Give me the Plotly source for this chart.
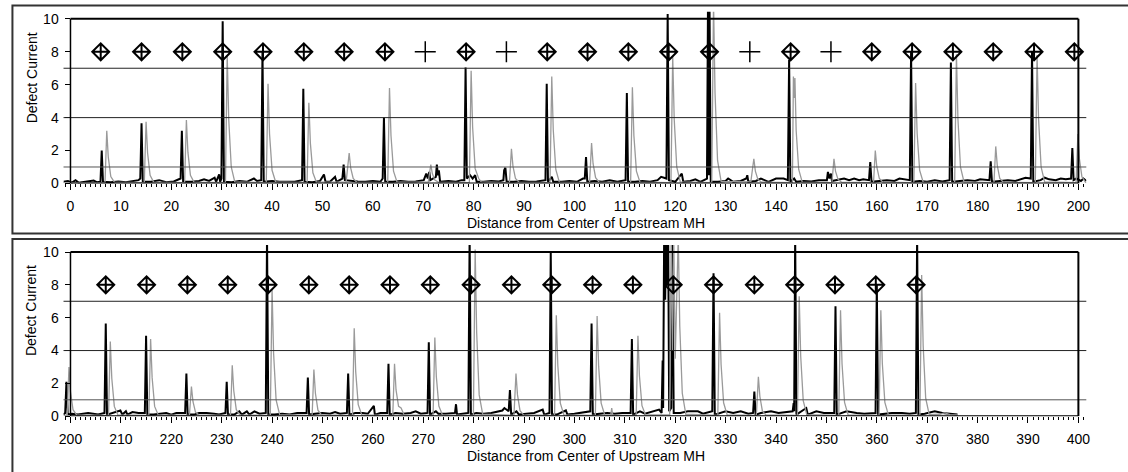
import plotly.graph_objects as go

# ---------------- data ----------------
# Panel 1 (0-200): black series (x, current)
black_top = [
    (-1.4,0.1),(-0.5,0.15),(0.3,0.05),(1.0,0.2),(1.6,0.05),(3,0.1),(4.6,0.18),(5.2,0.08),(5.95,0.1),(6.2,2.0),(6.45,0.1),
    (8,0.08),(9.5,0.12),(11,0.08),(12.5,0.15),(13.5,0.2),(13.85,0.3),(14.1,3.65),(14.35,0.1),(16,0.1),(17.6,0.2),(19,0.08),
    (20.5,0.12),(21.6,0.25),(21.85,0.3),(22.1,3.2),(22.35,0.1),(24,0.1),(25.5,0.15),(26.5,0.25),(27.5,0.15),(28.6,0.35),
    (28.9,0.1),(29.5,0.55),(29.7,0.1),(29.95,0.3),(30.2,9.85),(30.45,0.1),(32,0.08),(33.5,0.15),(35,0.1),(36.4,0.3),(37,0.15),(37.85,0.2),(38.1,8.0),
    (38.35,0.1),(40,0.15),(41.5,0.1),(43,0.12),(44.5,0.1),(45.95,0.2),(46.2,5.75),(46.45,0.1),(48,0.08),(49.5,0.15),(50.3,0.55),
    (50.6,0.1),(51.5,0.1),(52.5,0.4),(52.8,0.1),(53.95,0.3),(54.2,1.15),(54.45,0.2),(55.5,0.15),(57,0.12),(58.5,0.1),(60,0.15),
    (61.5,0.1),(61.95,0.3),(62.2,4.0),(62.45,0.1),(64,0.1),(65.5,0.15),(67,0.1),(68.5,0.12),(70.1,0.2),(70.6,0.6),(70.9,0.3),
    (71.2,0.7),(71.4,0.2),(72.5,0.4),(72.7,1.15),(72.9,0.5),(73.1,0.8),(73.35,0.1),(75,0.15),(76.5,0.1),(77.6,0.2),(78.15,0.2),
    (78.4,7.05),(78.65,0.3),(79.3,0.5),(79.8,0.3),(80.3,0.5),(80.6,0.1),(82,0.1),(83.5,0.15),(85,0.12),(85.9,0.2),(86.05,0.8),
    (86.3,0.95),(86.55,0.1),(88,0.1),(89.5,0.15),(91,0.1),(92.5,0.12),(94.25,0.2),(94.5,6.05),(94.75,0.1),(95.5,0.4),(95.8,0.1),
    (97.5,0.1),(99,0.15),(100.5,0.1),(101.7,0.3),(102.05,0.3),(102.3,1.6),(102.55,0.1),(104,0.15),(105.5,0.1),(107,0.2),
    (108.5,0.1),(110.15,0.2),(110.4,5.5),(110.65,0.1),(112,0.1),(113.5,0.15),(115,0.1),(116.5,0.2),(117.2,0.4),(118.25,0.3),
    (118.5,10.3),(118.75,0.2),(120,0.1),(121.3,0.6),(121.6,0.1),(123,0.15),(124,0.25),(125,0.1),(126.3,0.3),(126.5,11),
    (126.65,0.5),(126.8,11),(127.05,0.1),(128.5,0.1),(130,0.15),(130.5,0.3),(131.5,0.1),(133,0.15),(134.1,0.3),(134.3,0.5),
    (134.5,0.1),(136,0.15),(137,0.3),(138.5,0.1),(140,0.3),(141.5,0.3),(142.35,0.2),(142.6,7.5),(142.85,0.1),(143.6,0.3),
    (144,0.1),(145.5,0.15),(147,0.12),(148.5,0.2),(150.1,0.2),(150.3,0.7),(150.6,0.3),(150.9,0.6),(151.1,0.15),(152.5,0.25),
    (153.5,0.3),(154.5,0.2),(155.5,0.3),(156.5,0.2),(157.3,0.25),(158.45,0.2),(158.7,1.3),(158.95,0.1),(160.5,0.15),(162,0.2),
    (163.5,0.15),(164.5,0.3),(166.55,0.2),(166.8,8.0),(167.05,0.1),(168.5,0.15),(170,0.1),(171.5,0.2),(173,0.12),(174.45,0.2),
    (174.7,7.35),(174.95,0.1),(176.5,0.15),(178,0.2),(179.5,0.15),(180.5,0.25),(182.35,0.2),(182.6,1.35),(182.85,0.1),
    (184.5,0.15),(186,0.2),(187.5,0.15),(189.5,0.35),(190.55,0.3),(190.8,8.0),(191.05,0.1),(192.5,0.2),(193.3,0.35),
    (194.2,0.25),(195.5,0.2),(196.5,0.3),(197.5,0.25),(198.55,0.3),(198.8,2.15),(199.05,0.2),(199.6,0.3),(200.5,0.15),
    (201,0.3),(201.6,0.15),
]

# Panel 1: gray series (x, current)
gray_top = [
    (-1.4,0.05),(6.85,0.05),(7.2,3.2),(7.5,1.6),(8.0,0.42),(8.7,0.08),
    (14.65,0.05),(15.0,3.75),(15.3,1.85),(15.8,0.5),(16.5,0.08),
    (22.65,0.05),(23.0,3.85),(23.3,1.9),(23.8,0.5),(24.5,0.08),
    (30.75,0.05),(31.1,7.8),(31.4,3.9),(31.9,1.0),(32.6,0.1),
    (38.85,0.05),(39.2,6.05),(39.5,3.0),(40.0,0.8),(40.7,0.1),
    (46.95,0.05),(47.3,4.9),(47.6,2.45),(48.1,0.65),(48.8,0.08),
    (54.7,0.1),(55.3,1.85),(55.6,0.95),(56.1,0.3),(56.8,0.08),
    (62.95,0.05),(63.3,5.8),(63.6,2.9),(64.1,0.75),(64.8,0.08),
    (71.0,0.1),(71.5,1.15),(71.8,0.6),(72.3,0.2),(73.0,0.08),
    (79.15,0.05),(79.5,6.85),(79.8,3.4),(80.3,0.9),(81.0,0.3),(81.5,0.1),
    (87.1,0.05),(87.5,2.1),(87.8,1.05),(88.3,0.3),(89.0,0.08),
    (95.15,0.05),(95.5,6.5),(95.8,3.25),(96.3,0.85),(97.0,0.08),
    (103.0,0.05),(103.4,2.45),(103.7,1.2),(104.2,0.35),(104.9,0.08),
    (111.15,0.05),(111.5,5.85),(111.8,2.9),(112.3,0.75),(113.0,0.08),
    (119.15,0.05),(119.5,7.75),(119.8,3.9),(120.3,1.0),(121.0,0.1),
    (127.25,0.05),(127.6,11.0),(127.9,5.5),(128.4,1.4),(129.1,0.12),
    (135.0,0.1),(135.6,1.5),(135.9,0.75),(136.4,0.25),(137.1,0.08),
    (143.25,0.05),(143.45,6.5),(143.6,5.2),(143.75,6.4),(144.0,3.2),(144.5,0.85),(145.2,0.08),
    (151.1,0.05),(151.5,1.5),(151.8,0.75),(152.3,0.25),(153.0,0.08),
    (159.35,0.05),(159.7,2.0),(160.0,1.0),(160.5,0.3),(161.2,0.08),
    (167.35,0.05),(167.7,6.1),(168.0,3.05),(168.5,0.8),(169.2,0.08),
    (175.45,0.05),(175.8,7.85),(176.1,3.9),(176.6,1.0),(177.3,0.1),
    (183.25,0.05),(183.6,2.25),(183.9,1.1),(184.4,0.3),(185.1,0.08),
    (191.45,0.05),(191.8,7.8),(192.1,3.9),(192.6,1.0),(193.3,0.1),
    (199.55,0.05),(199.9,3.0),(200.2,1.5),(200.7,0.4),(201.4,0.08),(201.6,0.05),
]

# Panel 2 (200-400): black series
black_bottom = [
    (198.6,0.1),(198.95,0.2),(199.2,2.1),(199.45,0.1),(200.3,0.15),(201.5,0.1),(202.5,0.15),(203.5,0.2),(204.5,0.15),
    (205.5,0.1),(206.75,0.2),(207.0,5.65),(207.25,0.1),(208.5,0.2),(209.9,0.35),(210.3,0.1),(211,0.3),(211.3,0.1),(212.3,0.25),
    (213.5,0.2),(214.75,0.2),(215.0,4.9),(215.25,0.1),(216.5,0.1),(218,0.15),(219,0.2),(220,0.1),(221,0.2),(222.75,0.2),
    (223.0,2.6),(223.25,0.1),(224.5,0.1),(225.5,0.2),(227,0.2),(228.5,0.15),(229.5,0.1),(230.75,0.2),(231.0,2.1),
    (231.25,0.1),(232.5,0.1),(233.5,0.3),(234,0.1),(235,0.3),(235.5,0.1),(236.5,0.3),(237.5,0.15),(238.75,0.2),(239.0,11),
    (239.25,0.1),(240.5,0.1),(242,0.15),(243.5,0.1),(245,0.2),(246.85,0.2),(247.1,2.35),(247.35,0.1),(248.5,0.15),
    (250,0.2),(251.5,0.15),(252.5,0.25),(253.5,0.15),(254.85,0.2),(255.1,2.6),(255.35,0.1),(256.5,0.2),(258,0.2),
    (259,0.15),(260.2,0.63),(260.4,0.1),(261.5,0.2),(262.85,0.2),(263.1,3.2),(263.35,0.1),(264.5,0.2),(266,0.15),
    (267.5,0.2),(268.5,0.3),(269.5,0.15),(270.85,0.2),(271.1,4.5),(271.35,0.1),(272.5,0.3),(273,0.15),(274.5,0.15),
    (276.3,0.2),(276.5,0.73),(276.7,0.1),(278,0.15),(278.95,0.2),(279.2,11),(279.45,0.1),(280.5,0.2),(282,0.15),
    (283.5,0.2),(285.7,0.35),(286.1,0.5),(286.95,0.3),(287.2,1.6),(287.45,0.1),(288.5,0.3),(289,0.1),(290.5,0.15),
    (292,0.2),(293.7,0.4),(294,0.1),(295.05,0.2),(295.3,10.0),(295.55,0.1),(296.5,0.1),(298.3,0.35),(298.6,0.1),
    (300,0.15),(301.5,0.2),(303.15,0.3),(303.4,5.65),(303.65,0.1),(305,0.15),(306.5,0.2),(308,0.15),(309.5,0.2),
    (311.15,0.2),(311.4,4.7),(311.65,0.1),(313,0.3),(314,0.15),(315.5,0.3),(316.8,0.4),(317.3,0.2),(317.5,3.4),
    (317.6,0.5),(317.8,11),(318.0,7.1),(318.2,11),(318.4,8),(318.6,11),(318.8,0.3),(319.2,0.5),(319.4,11),(319.7,0.2),
    (321,0.2),(322.5,0.3),(324.5,0.3),(325.5,0.15),(327.35,0.3),(327.6,8.7),(327.85,0.1),(329,0.2),(330,0.3),
    (331.5,0.2),(333,0.3),(334.5,0.15),(335.45,0.2),(335.7,1.5),(335.95,0.1),(337,0.2),(339,0.3),(340.5,0.2),
    (342,0.25),(343.3,0.3),(343.5,0.8),(343.6,0.3),(343.8,11),(344.05,0.1),(346,0.5),(346.3,0.1),(348,0.3),
    (349.5,0.2),(351.55,0.2),(351.8,6.7),(352.05,0.1),(354,0.3),(356,0.2),(357.5,0.15),(359.75,0.2),(360.0,8.0),
    (360.25,0.1),(361.5,0.15),(363,0.2),(365,0.2),(366.5,0.15),(367.75,0.2),(368.0,11),(368.25,0.1),(369.5,0.15),
    (371.5,0.3),(373,0.2),(374.5,0.15),(376,0.1),
]

# Panel 2: gray series
gray_bottom = [
    (198.6,0.05),(199.35,0.05),(199.7,3.0),(200.0,1.5),(200.5,0.4),(201.2,0.08),
    (207.55,0.05),(207.9,4.55),(208.2,2.3),(208.7,0.6),(209.4,0.08),
    (215.55,0.05),(215.9,4.7),(216.2,2.35),(216.7,0.6),(217.4,0.08),
    (223.6,0.05),(224.0,1.8),(224.3,0.9),(224.8,0.25),(225.5,0.08),
    (231.75,0.05),(232.1,3.1),(232.4,1.55),(232.9,0.4),(233.6,0.08),
    (239.65,0.05),(240.0,7.7),(240.3,3.85),(240.8,1.0),(241.5,0.1),
    (247.95,0.05),(248.3,2.85),(248.6,1.4),(249.1,0.37),(249.8,0.08),
    (255.95,0.05),(256.3,5.35),(256.6,2.7),(257.1,0.7),(257.8,0.08),
    (263.95,0.05),(264.3,3.2),(264.6,1.6),(265.1,0.6),(265.6,0.5),(266.2,0.08),
    (271.95,0.05),(272.3,4.8),(272.6,2.4),(273.1,0.62),(273.8,0.08),
    (279.95,0.05),(280.3,10.15),(280.6,5.1),(281.1,1.3),(281.8,0.12),
    (288.0,0.05),(288.4,2.6),(288.7,1.3),(289.2,0.34),(289.9,0.08),
    (296.05,0.05),(296.4,6.15),(296.7,3.1),(297.2,0.8),(297.9,0.08),
    (304.15,0.05),(304.5,6.1),(304.8,3.05),(305.3,0.8),(306.0,0.08),
    (307.2,0.05),(307.4,0.5),(307.6,0.05),
    (312.25,0.05),(312.6,4.9),(312.9,2.45),(313.4,0.64),(314.1,0.08),
    (318.9,0.1),(319.2,11),(319.45,4.0),(319.7,11),(320.0,3.5),(320.6,11),(320.9,5.5),(321.4,1.4),(322.1,0.12),
    (328.45,0.05),(328.8,6.3),(329.1,3.15),(329.6,0.82),(330.3,0.08),
    (336.1,0.05),(336.5,2.4),(336.8,1.2),(337.3,0.31),(338.0,0.08),
    (344.25,0.05),(344.6,7.3),(344.9,3.65),(345.4,0.95),(346.1,0.1),
    (352.45,0.05),(352.8,6.45),(353.1,3.2),(353.6,0.84),(354.3,0.08),
    (360.45,0.05),(360.8,6.45),(361.1,3.2),(361.6,0.84),(362.3,0.08),
    (368.55,0.05),(368.9,8.6),(369.2,4.3),(369.7,1.1),(370.4,0.1),
    (372.5,0.12),(373.5,0.2),(374.5,0.1),(376,0.08),
]

# Marker positions (plotted at current = 8)
marker_level = 8
diamond_top_x = [6.0, 14.1, 22.2, 30.2, 38.2, 46.3, 54.3, 62.4, 78.5, 94.6, 102.6, 110.7, 118.7, 126.8,
                 142.9, 159.0, 167.0, 175.1, 183.1, 191.2, 199.2]
cross_top_x = [70.4, 86.5, 134.8, 150.9]
diamond_bottom_x = [207.0, 215.1, 223.2, 231.2, 239.2, 247.3, 255.3, 263.4, 271.4, 279.5, 287.5, 295.5, 303.6,
                    311.6, 319.6, 327.6, 335.7, 343.7, 351.7, 359.8, 367.8]

x_ticks_top = list(range(0, 201, 10))
x_ticks_bottom = list(range(200, 401, 10))
y_ticks = [0, 2, 4, 6, 8, 10]
ref_lines = [1, 4, 7]

x_title = "Distance from Center of Upstream MH"
y_title = "Defect Current"

# ---------------- figure ----------------
W, H = 1128, 472
FONT = "Arial, Liberation Sans, Helvetica, sans-serif"
BLACK = "#000000"
GRAY = "#9a9a9a"


def unzip(pairs):
    return [p[0] for p in pairs], [p[1] for p in pairs]


fig = go.Figure()

panels = [
    dict(xa="x", ya="y", black=black_top, gray=gray_top, dia=diamond_top_x, cross=cross_top_x,
         lo=0, hi=200),
    dict(xa="x2", ya="y2", black=black_bottom, gray=gray_bottom, dia=diamond_bottom_x, cross=[],
         lo=200, hi=400),
]

for p in panels:
    bx, by = unzip(p["black"])
    gx, gy = unzip(p["gray"])
    fig.add_trace(go.Scatter(x=bx, y=by, mode="lines", line=dict(color=BLACK, width=2),
                             xaxis=p["xa"], yaxis=p["ya"], hoverinfo="skip"))
    fig.add_trace(go.Scatter(x=gx, y=gy, mode="lines", line=dict(color=GRAY, width=1.3),
                             xaxis=p["xa"], yaxis=p["ya"], hoverinfo="skip"))
    fig.add_trace(go.Scatter(x=p["dia"], y=[marker_level] * len(p["dia"]), mode="markers",
                             marker=dict(symbol="diamond-cross-open", size=13, color=BLACK,
                                         line=dict(color=BLACK, width=2)),
                             xaxis=p["xa"], yaxis=p["ya"], cliponaxis=False))
    if p["cross"]:
        fig.add_trace(go.Scatter(x=p["cross"], y=[marker_level] * len(p["cross"]), mode="markers",
                                 marker=dict(symbol="cross-thin-open", size=15, color=BLACK,
                                             line=dict(color=BLACK, width=1.5)),
                                 xaxis=p["xa"], yaxis=p["ya"]))

# pixel-derived layout helpers
def px_x(v):
    return v / W

def px_y(v):
    return 1 - v / H

x_dom = [px_x(59), px_x(1090)]
axis_font = dict(family=FONT, size=14, color=BLACK)

common_x = dict(domain=x_dom, showgrid=False, zeroline=False, showline=False,
                ticks="outside", ticklen=6, tickwidth=1, tickcolor=BLACK,
                tickfont=axis_font, ticklabelstandoff=4,
                minor=dict(dtick=1, ticks="outside", ticklen=3, tickcolor=BLACK, tickwidth=1, showgrid=False))
common_y = dict(range=[0, 10.43], showgrid=False, zeroline=False, showline=False,
                tickvals=y_ticks, ticks="outside", ticklen=5, tickwidth=1, tickcolor=BLACK,
                tickfont=axis_font, anchor="free", position=px_x(66), ticklabelstandoff=4)

fig.update_layout(
    width=W, height=H, margin=dict(l=0, r=0, t=0, b=0),
    paper_bgcolor="white", plot_bgcolor="white", showlegend=False,
    font=dict(family=FONT, color=BLACK),
    xaxis=dict(common_x, range=[-1.38, 201.57], tickvals=x_ticks_top, anchor="y"),
    yaxis=dict(common_y, domain=[px_y(186), px_y(11)]),
    xaxis2=dict(common_x, range=[198.62, 401.57], tickvals=x_ticks_bottom, anchor="y2"),
    yaxis2=dict(common_y, domain=[px_y(423.3), px_y(248.7)]),
)

shapes = []
for p in panels:
    xa, ya = p["xa"], p["ya"]
    for v in ref_lines:
        shapes.append(dict(type="line", xref=f"{xa} domain", yref=ya, x0=0, x1=1, y0=v, y1=v,
                           line=dict(color="#222222" if v != 1 else "#555555", width=1)))
    # frame of the plot: left axis, bottom axis, top and right borders
    shapes.append(dict(type="line", xref=xa, yref=ya, x0=p["lo"], x1=p["lo"], y0=0, y1=10,
                       line=dict(color=BLACK, width=1.5)))
    shapes.append(dict(type="line", xref=xa, yref=ya, x0=p["lo"], x1=p["hi"], y0=0, y1=0,
                       line=dict(color=BLACK, width=2)))
    shapes.append(dict(type="line", xref=xa, yref=ya, x0=p["lo"], x1=p["hi"], y0=10, y1=10,
                       line=dict(color=BLACK, width=2)))
    shapes.append(dict(type="line", xref=xa, yref=ya, x0=p["hi"], x1=p["hi"], y0=0, y1=10,
                       line=dict(color=BLACK, width=2)))

# outer chart boxes
shapes.append(dict(type="rect", xref="paper", yref="paper", x0=px_x(7.5), x1=1.02,
                   y0=px_y(237), y1=px_y(4.7), line=dict(color="#333333", width=2), layer="below"))
shapes.append(dict(type="rect", xref="paper", yref="paper", x0=px_x(7.5), x1=1.02,
                   y0=-0.02, y1=px_y(242.5), line=dict(color="#333333", width=2), layer="below"))
fig.update_layout(shapes=shapes)

annotations = []
for off in (0, 237.3):
    annotations.append(dict(text=x_title, xref="paper", yref="paper", x=px_x(586), y=px_y(226.5 + off),
                            xanchor="center", yanchor="middle", showarrow=False,
                            font=dict(family=FONT, size=14, color=BLACK)))
    annotations.append(dict(text=y_title, xref="paper", yref="paper", x=px_x(27), y=px_y(78 + off),
                            xanchor="center", yanchor="middle", showarrow=False, textangle=-90,
                            font=dict(family=FONT, size=14, color=BLACK)))
fig.update_layout(annotations=annotations)

fig.write_html("out.html")
